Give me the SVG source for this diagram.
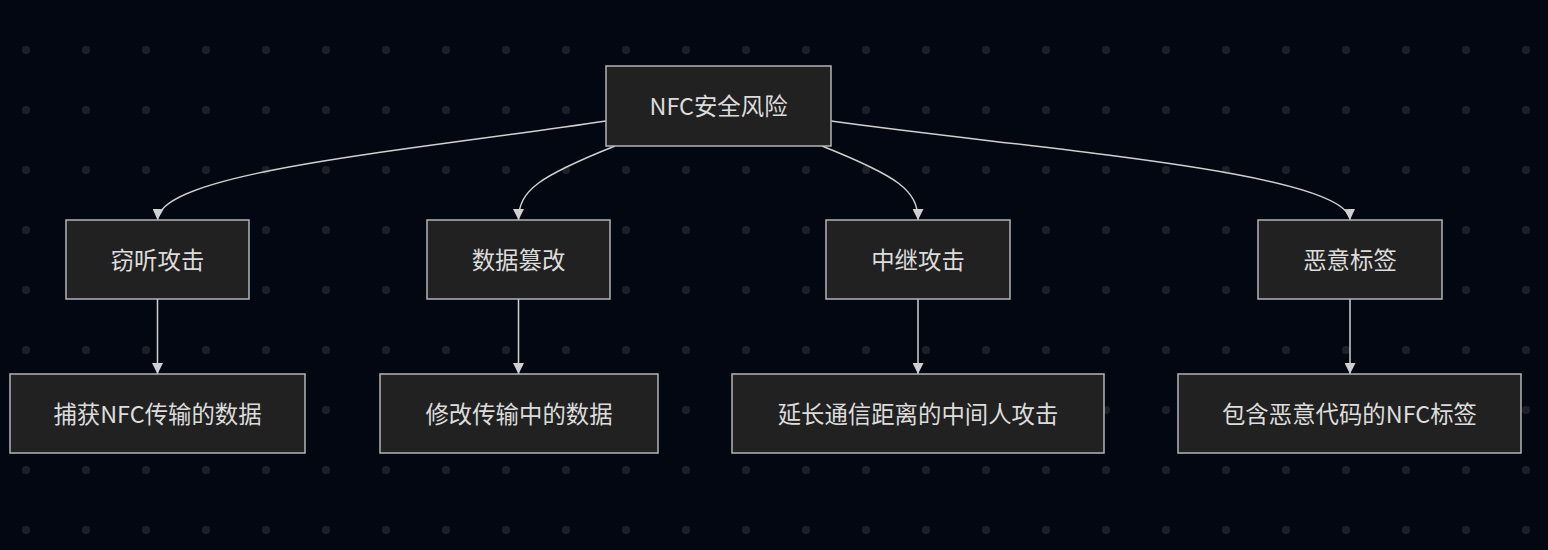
<svg xmlns="http://www.w3.org/2000/svg" width="1548" height="550" viewBox="0 0 1548 550">
<style>
.node rect{fill:#212121;stroke:#b4b4b4;stroke-width:1.5}
.node text{fill:#dcdcdc;font-family:"Noto Sans CJK SC","Noto Sans",sans-serif;font-size:23.4px;text-anchor:middle;dominant-baseline:central}
.edges path{fill:none;stroke:#d0d0d0;stroke-width:1.5;marker-end:url(#arrow)}
</style>
<defs>
<pattern id="dots" x="0" y="0" width="60" height="60" patternUnits="userSpaceOnUse">
<circle cx="26" cy="50" r="4" fill="#1d2029"/>
</pattern>
<marker id="arrow" viewBox="0 0 10 10" refX="10" refY="5" markerWidth="11" markerHeight="11" markerUnits="userSpaceOnUse" orient="auto">
<path d="M0,0 L10,5 L0,10 z" fill="#d0d0d0"/>
</marker>
</defs>
<rect width="1548" height="550" fill="#030712"/>
<rect width="1548" height="550" fill="url(#dots)"/>
<g class="edges">
<path d="M606,121 C400,152 160,172 157.5,220"/>
<path d="M615,146 C540,176 518.5,190 518.5,220"/>
<path d="M822,146 C897,176 918,190 918,220"/>
<path d="M831,121 C1040,150 1348,172 1350,220"/>
<path d="M157.5,299 L157.5,374"/>
<path d="M518.5,299 L518.5,374"/>
<path d="M918,299 L918,374"/>
<path d="M1350,299 L1350,374"/>
</g>
<g id="root" class="node"><rect x="606" y="66" width="225" height="80"/><text x="718.5" y="105">NFC安全风险</text></g>
<g id="eavesdrop" class="node"><rect x="66" y="220" width="183" height="79"/><text x="157.5" y="259">窃听攻击</text></g>
<g id="tamper" class="node"><rect x="427" y="220" width="183" height="79"/><text x="518.5" y="259">数据篡改</text></g>
<g id="relay" class="node"><rect x="826" y="220" width="184" height="79"/><text x="918" y="259">中继攻击</text></g>
<g id="malicious" class="node"><rect x="1258" y="220" width="184" height="79"/><text x="1350" y="259">恶意标签</text></g>
<g id="eavesdrop-d" class="node"><rect x="10" y="374" width="295" height="79"/><text x="157.5" y="413">捕获NFC传输的数据</text></g>
<g id="tamper-d" class="node"><rect x="380" y="374" width="278" height="79"/><text x="519" y="413">修改传输中的数据</text></g>
<g id="relay-d" class="node"><rect x="732" y="374" width="372" height="79"/><text x="918" y="413">延长通信距离的中间人攻击</text></g>
<g id="malicious-d" class="node"><rect x="1178" y="374" width="343" height="79"/><text x="1349.5" y="413">包含恶意代码的NFC标签</text></g>
</svg>
